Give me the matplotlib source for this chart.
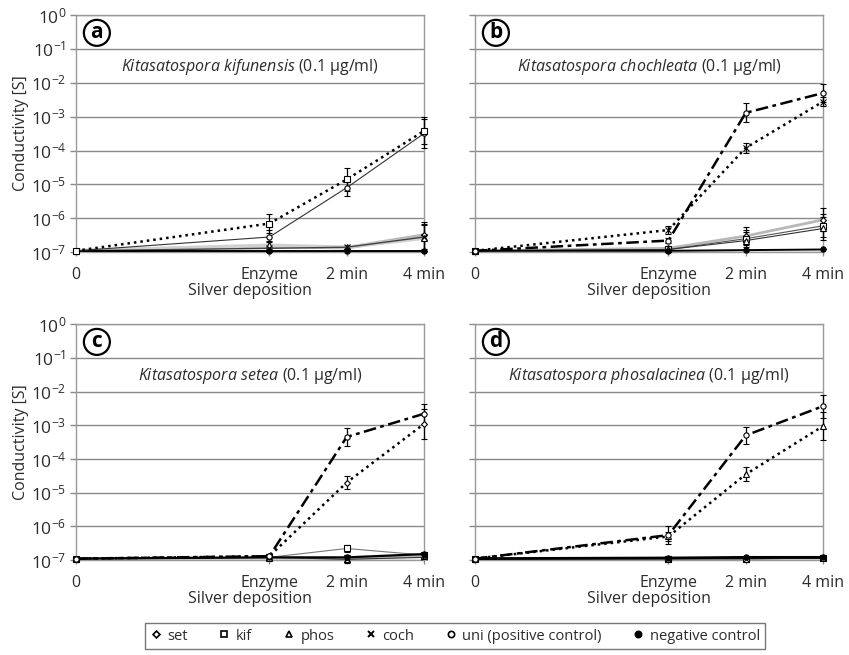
import matplotlib
matplotlib.use("Agg")
import matplotlib.pyplot as plt
from matplotlib.lines import Line2D
from matplotlib.ticker import LogLocator, NullLocator, LogFormatterMathtext

plt.rcParams['font.family'] = ['Open Sans', 'DejaVu Sans']
plt.rcParams['mathtext.fontset'] = 'custom'
plt.rcParams['mathtext.rm'] = 'Open Sans'
plt.rcParams['mathtext.it'] = 'Open Sans:italic'

# x positions of the deposition steps and their labels
x_pos = [0, 5, 7, 9]
x_labels = ['0', 'Enzyme', '2 min', '4 min']

# panel a - K. kifunensis
a_kif = [1.1e-7, 7.0e-7, 1.4e-5, 3.8e-4]
a_kif_err = [1.0, 1.9, 2.2, 2.5]
a_uni = [1.1e-7, 2.8e-7, 8.0e-6, 3.2e-4]
a_uni_err = [1.0, 1.6, 1.7, 2.6]
a_set = [1.1e-7, 1.5e-7, 1.35e-7, 3.2e-7]
a_phos = [1.1e-7, 1.6e-7, 1.4e-7, 2.6e-7]
a_coch = [1.1e-7, 1.3e-7, 1.4e-7, 2.8e-7]
a_low_err = [1.0, 1.3, 1.1, 2.5]
a_neg = [1.1e-7, 1.1e-7, 1.1e-7, 1.1e-7]

# panel b - K. chochleata
b_uni = [1.1e-7, 2.2e-7, 1.3e-3, 5.0e-3]
b_uni_err = [1.0, 1.2, 1.9, 1.9]
b_coch = [1.1e-7, 4.5e-7, 1.2e-4, 2.8e-3]
b_coch_err = [1.0, 1.3, 1.4, 1.4]
b_set = [1.1e-7, 1.3e-7, 3.0e-7, 9.0e-7]
b_kif = [1.1e-7, 1.2e-7, 2.5e-7, 6.0e-7]
b_phos = [1.1e-7, 1.2e-7, 2.2e-7, 5.0e-7]
b_low_err = [1.0, 1.1, 1.8, 2.2]
b_neg = [1.1e-7, 1.1e-7, 1.15e-7, 1.2e-7]

# panel c - K. setea
c_uni = [1.1e-7, 1.3e-7, 4.5e-4, 2.2e-3]
c_uni_err = [1.0, 1.1, 1.8, 2.0]
c_set = [1.1e-7, 1.3e-7, 2.0e-5, 1.1e-3]
c_set_err = [1.0, 1.1, 1.6, 2.8]
c_kif = [1.1e-7, 1.2e-7, 2.2e-7, 1.4e-7]
c_phos = [1.1e-7, 1.15e-7, 1.1e-7, 1.3e-7]
c_coch = [1.1e-7, 1.2e-7, 1.05e-7, 1.2e-7]
c_low_err = [1.0, 1.1, 1.3, 1.1]
c_neg = [1.1e-7, 1.2e-7, 1.2e-7, 1.5e-7]

# panel d - K. phosalacinea
d_uni = [1.1e-7, 5.5e-7, 5.0e-4, 3.7e-3]
d_uni_err = [1.0, 1.8, 1.8, 2.2]
d_phos = [1.1e-7, 5.0e-7, 3.5e-5, 9.5e-4]
d_phos_err = [1.0, 1.4, 1.6, 2.6]
d_set = [1.1e-7, 1.1e-7, 1.1e-7, 1.15e-7]
d_kif = [1.1e-7, 1.1e-7, 1.1e-7, 1.15e-7]
d_coch = [1.1e-7, 1.1e-7, 1.1e-7, 1.15e-7]
d_low_err = [1.0, 1.0, 1.0, 1.0]
d_neg = [1.1e-7, 1.15e-7, 1.2e-7, 1.2e-7]

DOT = (0, (1, 1.6))
DASHDOT = (0, (5, 1.8, 1.5, 1.8))
TXT = '#2b2b2b'
GRID = '#8a8a8a'

markers = {'set': 'D', 'kif': 's', 'phos': '^', 'coch': 'x', 'uni': 'o', 'neg': 'o'}


def draw(ax, vals, err, kind, ls, color='black', lw=1.0):
    # error given as a multiplicative factor -> asymmetric bars on log axis
    lo = [v - v / f for v, f in zip(vals, err)]
    hi = [v * f - v for v, f in zip(vals, err)]
    m = markers[kind]
    face = 'black' if kind == 'neg' else 'white'
    ax.errorbar(x_pos, vals, yerr=[lo, hi], color=color, ls=ls, lw=lw,
                marker=m, ms=3.0 if m == 'D' else 3.8, mfc=face, mec='black',
                mew=0.8, ecolor='black', elinewidth=0.9, capsize=2.5,
                capthick=0.9, clip_on=False, zorder=3)


panels = [
    ('a', 'Kitasatospora\\ kifunensis', [
        (a_set, a_low_err, 'set', '-', '#b8b8b8', 2.5),
        (a_phos, a_low_err, 'phos', '-', '#d0d0d0', 2.5),
        (a_coch, a_low_err, 'coch', '-', '#404040', 1.0),
        (a_neg, [1, 1, 1, 1], 'neg', '-', 'black', 1.4),
        (a_uni, a_uni_err, 'uni', '-', '#333333', 0.8),
        (a_kif, a_kif_err, 'kif', DOT, 'black', 1.8),
    ]),
    ('b', 'Kitasatospora\\ chochleata', [
        (b_set, b_low_err, 'set', '-', '#b8b8b8', 2.0),
        (b_kif, b_low_err, 'kif', '-', '#555555', 0.8),
        (b_phos, b_low_err, 'phos', '-', '#333333', 0.8),
        (b_neg, [1, 1, 1, 1], 'neg', '-', 'black', 1.4),
        (b_coch, b_coch_err, 'coch', DOT, 'black', 1.8),
        (b_uni, b_uni_err, 'uni', DASHDOT, 'black', 1.8),
    ]),
    ('c', 'Kitasatospora\\ setea', [
        (c_kif, c_low_err, 'kif', '-', '#777777', 0.8),
        (c_phos, c_low_err, 'phos', '-', '#b8b8b8', 2.0),
        (c_coch, c_low_err, 'coch', '-', '#333333', 0.8),
        (c_neg, [1, 1, 1, 1], 'neg', '-', 'black', 1.6),
        (c_set, c_set_err, 'set', DOT, 'black', 1.8),
        (c_uni, c_uni_err, 'uni', DASHDOT, 'black', 1.8),
    ]),
    ('d', 'Kitasatospora\\ phosalacinea', [
        (d_set, d_low_err, 'set', '-', '#b8b8b8', 2.0),
        (d_kif, d_low_err, 'kif', '-', '#777777', 1.0),
        (d_coch, d_low_err, 'coch', '-', '#333333', 1.0),
        (d_neg, [1, 1, 1, 1], 'neg', '-', 'black', 2.0),
        (d_phos, d_phos_err, 'phos', DOT, 'black', 1.8),
        (d_uni, d_uni_err, 'uni', DASHDOT, 'black', 1.8),
    ]),
]

fig = plt.figure(figsize=(8.49, 6.55), dpi=100)
rects = [
    [0.0895, 0.615, 0.41, 0.362],
    [0.5595, 0.615, 0.41, 0.362],
    [0.0895, 0.145, 0.41, 0.360],
    [0.5595, 0.145, 0.41, 0.360],
]

for i, (letter, species, series) in enumerate(panels):
    ax = fig.add_axes(rects[i])
    ax.set_yscale('log')
    ax.set_ylim(1e-7, 1)
    ax.set_xlim(0, 9)
    ax.yaxis.set_major_locator(LogLocator(base=10, numticks=12))
    ax.yaxis.set_minor_locator(NullLocator())
    ax.yaxis.set_major_formatter(LogFormatterMathtext())
    ax.grid(axis='y', color=GRID, lw=1.0, zorder=0)
    ax.set_axisbelow(True)
    for sp in ax.spines.values():
        sp.set_color('#9a9a9a')
        sp.set_linewidth(1.0)
    ax.set_xticks(x_pos)
    ax.set_xticklabels(x_labels)
    ax.tick_params(axis='both', colors='#8a8a8a', labelcolor=TXT,
                   labelsize=11.5, length=4, width=1.0)
    ax.tick_params(axis='y', labelsize=12.5, pad=3)
    ax.tick_params(axis='x', length=3, pad=8)
    if i % 2 == 1:
        ax.set_yticklabels([])
    else:
        ax.set_ylabel('Conductivity [S]', fontsize=11.5, color=TXT, labelpad=1)
    ax.set_xlabel('Silver deposition', fontsize=11.5, color=TXT, labelpad=0)

    for vals, err, kind, ls, col, lw in series:
        draw(ax, vals, err, kind, ls, color=col, lw=lw)

    ax.text(0.5, 0.78, r'$\it{' + species + r'}$ (0.1 μg/ml)',
            transform=ax.transAxes, ha='center', va='center',
            fontsize=11.5, color=TXT, zorder=5)
    ax.text(0.06, 0.925, letter, transform=ax.transAxes, ha='center',
            va='center', fontsize=15, fontweight='bold', color='black',
            bbox=dict(boxstyle='circle,pad=0.12', fc='white', ec='black', lw=1.6),
            zorder=6)

handles = [
    Line2D([], [], ls='none', marker='D', ms=3.5, mfc='white', mec='black', mew=1.2),
    Line2D([], [], ls='none', marker='s', ms=4.5, mfc='white', mec='black', mew=1.2),
    Line2D([], [], ls='none', marker='^', ms=4.5, mfc='white', mec='black', mew=1.2),
    Line2D([], [], ls='none', marker='x', ms=4.5, mfc='white', mec='black', mew=1.4),
    Line2D([], [], ls='none', marker='o', ms=4.5, mfc='white', mec='black', mew=1.2),
    Line2D([], [], ls='none', marker='o', ms=4.5, mfc='black', mec='black', mew=1.2),
]
labels = ['set', 'kif', 'phos', 'coch', 'uni (positive control)', 'negative control']
leg = fig.legend(handles, labels, loc='center', bbox_to_anchor=(0.536, 0.029),
                 ncol=6, frameon=True, fancybox=False, fontsize=10.5,
                 handlelength=0.8, handletextpad=0.4, columnspacing=2.1,
                 borderpad=0.35, edgecolor='#555555')
leg.get_frame().set_linewidth(1.0)
for t in leg.get_texts():
    t.set_color(TXT)

fig.savefig('out.png', dpi=100)
